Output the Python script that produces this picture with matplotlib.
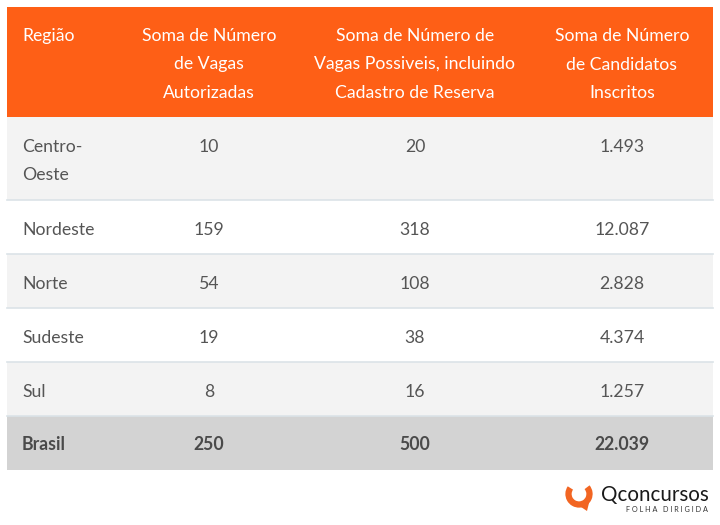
import matplotlib
matplotlib.use("Agg")
import matplotlib.pyplot as plt
from matplotlib.patches import Rectangle, Arc, Polygon

regions = ["Centro-\nOeste", "Nordeste", "Norte", "Sudeste", "Sul"]
vagas = [10, 159, 54, 19, 8]
vagas_possiveis = [20, 318, 108, 38, 16]
candidatos = [1493, 12087, 2828, 4374, 1257]
total_label = "Brasil"
headers = ["Região", "Soma de Número\nde Vagas\nAutorizadas",
           "Soma de Número de\nVagas Possiveis, incluindo\nCadastro de Reserva",
           "Soma de Número\nde Candidatos\nInscritos"]

def fmt(v):
    return f"{v:,}".replace(",", ".")

FONT = "Lato"
FS = 12.7
fig = plt.figure(figsize=(7.2, 5.25), dpi=100)
ax = fig.add_axes([0, 0, 1, 1])
ax.set_xlim(0, 720)
ax.set_ylim(525, 0)
ax.axis("off")

x0, x1 = 7, 713
orange = "#fe5f16"
txt = "#555555"
# header
ax.add_patch(Rectangle((x0, 7), x1 - x0, 110, color=orange, lw=0))
col_x = [22, 209, 415, 622]
for i, h in enumerate(headers):
    lines = h.split("\n")
    for j, line in enumerate(lines):
        ax.text(col_x[i], 36 + 28.5 * j, line, color="white", fontsize=FS,
                family=FONT, ha="left" if i == 0 else "center", va="center")

# body rows
row_tops = [117, 200, 254, 308, 362]
row_bots = [200, 254, 308, 362, 416]
fills = ["#f3f3f3", "#ffffff", "#f3f3f3", "#ffffff", "#f3f3f3"]
for k in range(len(regions)):
    t, b = row_tops[k], row_bots[k]
    ax.add_patch(Rectangle((x0, t), x1 - x0, b - t, color=fills[k], lw=0))
    if k > 0:
        ax.plot([x0, x1], [t, t], color="#dbe3e8", lw=1.2)
    ty = t + 30
    for j, line in enumerate(regions[k].split("\n")):
        ax.text(col_x[0], ty + 28 * j, line, color=txt, fontsize=FS, family=FONT,
                ha="left", va="center")
    ax.text(col_x[1], ty, fmt(vagas[k]), color=txt, fontsize=FS, family=FONT,
            ha="center", va="center")
    ax.text(col_x[2], ty, fmt(vagas_possiveis[k]), color=txt, fontsize=FS, family=FONT,
            ha="center", va="center")
    ax.text(col_x[3], ty, fmt(candidatos[k]), color=txt, fontsize=FS, family=FONT,
            ha="center", va="center")

# total row
ax.add_patch(Rectangle((x0, 416), x1 - x0, 54, color="#d3d3d3", lw=0))
ax.plot([x0, x1], [416, 416], color="#dbe3e8", lw=1.2)
tot = [total_label, fmt(sum(vagas)), fmt(sum(vagas_possiveis)), fmt(sum(candidatos))]
for i, s in enumerate(tot):
    ax.text(col_x[i], 445, s, color="#4a4a4a", fontsize=FS, family=FONT,
            fontweight="bold", ha="left" if i == 0 else "center", va="center")

# logo
ax.add_patch(Arc((579, 494), 21, 21, theta1=-40, theta2=215, color="#f26522", lw=4.5))
ax.add_patch(Polygon([[575, 503], [587, 511], [590, 499], [582, 502]], closed=True,
                     color="#f26522", lw=0))
ax.text(601, 495, "Qconcursos", color="#1a1a1a", fontsize=14.8, family=FONT,
        ha="left", va="center")
ax.text(708, 510, "F O L H A   D I R I G I D A", color="#333333", fontsize=5.2,
        family=FONT, ha="right", va="center")

fig.savefig("out.png", dpi=100)
